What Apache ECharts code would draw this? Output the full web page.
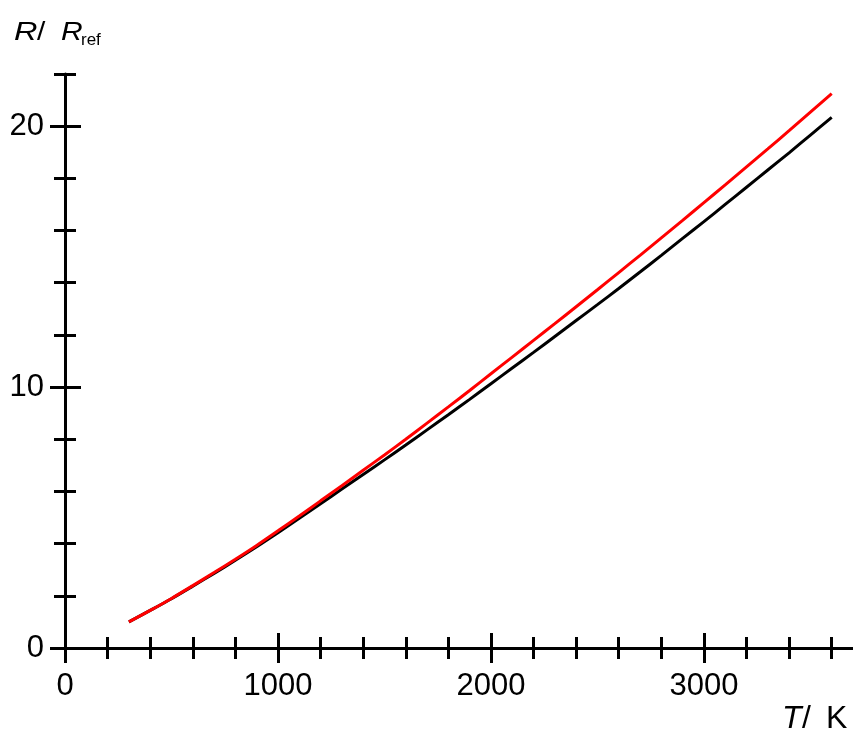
<!DOCTYPE html>
<html>
<head>
<meta charset="utf-8">
<script src="https://cdn.jsdelivr.net/npm/echarts@6/dist/echarts.min.js"></script>
<style>html,body{margin:0;padding:0;background:#fff;}#chart{width:853px;height:736px;}</style>
</head>
<body>
<div id="chart"></div>
<script>
// Temperature (K)
var temps = [300,400,500,600,700,800,900,1000,1100,1200,1300,1400,1500,1600,1700,1800,1900,2000,
  2100,2200,2300,2400,2500,2600,2700,2800,2900,3000,3100,3200,3300,3400,3500,3600];
// Black curve R/Rref
var blackVals = [1.00,1.44,1.89,2.37,2.86,3.36,3.88,4.42,4.97,5.53,6.09,6.65,7.21,7.78,8.36,8.94,9.53,10.13,
  10.73,11.33,11.94,12.55,13.16,13.78,14.41,15.05,15.70,16.34,17.00,17.66,18.32,18.98,19.66,20.34];
// Red curve R/Rref
var redVals = [1.00,1.44,1.90,2.39,2.89,3.40,3.93,4.49,5.06,5.64,6.22,6.81,7.40,8.00,8.62,9.24,9.87,10.51,
  11.15,11.79,12.43,13.08,13.73,14.39,15.05,15.72,16.39,17.07,17.75,18.44,19.13,19.83,20.54,21.25];
// Tick values
var xMinorTicks = [0,200,400,600,800,1000,1200,1400,1600,1800,2000,2200,2400,2600,2800,3000,3200,3400,3600];
var xMajorTicks = [0,1000,2000,3000];
var yMinorTicks = [0,2,4,6,8,10,12,14,16,18,20,22];
var yMajorTicks = [0,10,20];

function pairs(xs, ys){ var o=[]; for(var i=0;i<xs.length;i++) o.push([xs[i], ys[i]]); return o; }
function plain(v){ return String(v); }

var FONT = '"Liberation Sans", Arial, sans-serif';
var chart = echarts.init(document.getElementById('chart'), null, {renderer:'canvas'});

var xBase = {type:'value', min:0, max:3700, gridIndex:0, position:'bottom'};
var yBase = {type:'value', min:0, max:22, gridIndex:0, position:'left'};
var LW = 3;

chart.setOption({
  animation:false,
  backgroundColor:'#fff',
  grid:{left:65, right:0, top:74, bottom:88, containLabel:false},
  xAxis:[
    Object.assign({}, xBase, {
      interval:1000,
      axisLine:{show:true, onZero:false, lineStyle:{color:'#000', width:LW}},
      axisTick:{show:false},
      splitLine:{show:false},
      axisLabel:{show:true, margin:23, color:'#000', fontSize:31, fontFamily:FONT,
        customValues:xMajorTicks, formatter:plain}
    }),
    Object.assign({}, xBase, {
      offset:11,
      axisLine:{show:false, onZero:false},
      axisTick:{show:true, inside:true, length:22, customValues:xMinorTicks, lineStyle:{color:'#000', width:LW}},
      splitLine:{show:false}, axisLabel:{show:false}
    }),
    Object.assign({}, xBase, {
      offset:15,
      axisLine:{show:false, onZero:false},
      axisTick:{show:true, inside:true, length:30, customValues:xMajorTicks, lineStyle:{color:'#000', width:LW}},
      splitLine:{show:false}, axisLabel:{show:false}
    })
  ],
  yAxis:[
    Object.assign({}, yBase, {
      interval:10,
      axisLine:{show:true, onZero:false, lineStyle:{color:'#000', width:LW}},
      axisTick:{show:false},
      splitLine:{show:false},
      axisLabel:{show:true, margin:21, color:'#000', fontSize:31, fontFamily:FONT,
        customValues:yMajorTicks, formatter:plain}
    }),
    Object.assign({}, yBase, {
      offset:11,
      axisLine:{show:false, onZero:false},
      axisTick:{show:true, inside:true, length:22, customValues:yMinorTicks, lineStyle:{color:'#000', width:LW}},
      splitLine:{show:false}, axisLabel:{show:false}
    }),
    Object.assign({}, yBase, {
      offset:15,
      axisLine:{show:false, onZero:false},
      axisTick:{show:true, inside:true, length:31, customValues:yMajorTicks, lineStyle:{color:'#000', width:LW}},
      splitLine:{show:false}, axisLabel:{show:false}
    })
  ],
  graphic:[
    {type:'text', x:14, y:21, scaleX:1.3, style:{text:'R', fontSize:25, fontStyle:'italic', fontFamily:FONT, fill:'#000'}},
    {type:'text', x:37, y:21, scaleX:1.2, style:{text:'/', fontSize:25, fontFamily:FONT, fill:'#000'}},
    {type:'text', x:61, y:21, scaleX:1.2, style:{text:'R', fontSize:25, fontStyle:'italic', fontFamily:FONT, fill:'#000'}},
    {type:'text', x:81, y:32, style:{text:'ref', fontSize:17, fontFamily:FONT, fill:'#000'}},
    {type:'text', x:782, y:703, style:{text:'T', fontSize:32, fontStyle:'italic', fontFamily:FONT, fill:'#000'}},
    {type:'text', x:802, y:703, style:{text:'/', fontSize:32, fontFamily:FONT, fill:'#000'}},
    {type:'text', x:826, y:703, style:{text:'K', fontSize:32, fontFamily:FONT, fill:'#000'}}
  ],
  series:[
    {type:'line', name:'black', xAxisIndex:0, yAxisIndex:0, data:pairs(temps, blackVals),
      showSymbol:false, smooth:0.3, lineStyle:{color:'#000', width:3}, z:2},
    {type:'line', name:'red', xAxisIndex:0, yAxisIndex:0, data:pairs(temps, redVals),
      showSymbol:false, smooth:0.3, lineStyle:{color:'#ff0000', width:3}, z:3}
  ]
});
</script>
</body>
</html>
